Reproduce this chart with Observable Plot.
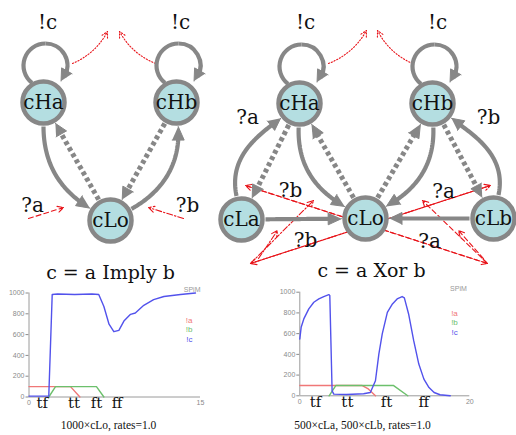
<!DOCTYPE html>
<html><head><meta charset="utf-8">
<script src="https://cdn.jsdelivr.net/npm/d3@7"></script>
<script src="https://cdn.jsdelivr.net/npm/@observablehq/plot@0.6"></script>
<style>
html,body{margin:0;padding:0;background:#fff;}
#wrap{position:relative;width:516px;height:435px;overflow:hidden;background:#fff;}
#wrap svg{position:absolute;left:0;top:0;}
</style></head><body><div id="wrap"></div>
<script>
// ---------- diagram data ----------
const nodeId    = ["A.cHa","A.cHb","A.cLo","B.cHa","B.cHb","B.cLa","B.cLo","B.cLb"];
const nodeLabel = ["cHa","cHb","cLo","cHa","cHb","cLa","cLo","cLb"];
const nodeX     = [43,176,110,299,432,241,365,493];
const nodeY     = [102,102,220,103,103,219,218,218];

const edgeFrom  = ["A.cHa","A.cLo","A.cHb","A.cLo","B.cLa","B.cHa","B.cHa","B.cLo","B.cLo","B.cHb","B.cHb","B.cLb","B.cLa","B.cLb"];
const edgeTo    = ["A.cLo","A.cHa","A.cLo","A.cHb","B.cHa","B.cLa","B.cLo","B.cHa","B.cHb","B.cLo","B.cLb","B.cHb","B.cLo","B.cLo"];
const edgeStyle = ["solid","dotted","dotted","solid","solid","dotted","solid","dotted","dotted","solid","dotted","solid","solid","solid"];
// exit / entry directions (degrees, null = straight) and tangent lengths of the curved ones
const edgeExit  = [90,null,null,-29,-102,null,92,null,null,88,null,-78,null,null];
const edgeEntry = [211,null,null,86,142,null,210,null,null,-30,null,38,null,null];
const edgeK0    = [48,0,0,22,42,0,45,0,0,45,0,42,0,0];
const edgeK1    = [22,0,0,48,25,0,25,0,0,25,0,25,0,0];

const loopNodes = ["A.cHa","A.cHb","B.cHa","B.cHb"];

const redX1 = [28,183,72,155,328,412,487,245,487,483,250,490,250,258];
const redY1 = [218,218,63,63,63,63,263,185,263,258,263,185,263,258];
const redX2 = [63,148,107,119,366,377,245,487,422,458,490,250,313,277];
const redY2 = [207,207,31,31,30,30,185,263,200,230,185,263,200,230];
const redKind = ["dash","dashdot","dot","dot","dot","dot","dash","dash","dash","dash","dashdot","dashdot","dashdot","dashdot"];
const redBend = [0,0,-20,20,-20,20,0,0,0,0,0,0,0,0];

const labelText = ["!c","!c","?a","?b","!c","!c","?a","?b","?b","?a","?b","?a"];
const labelX    = [47,180,32,187,305,437,247,488,290,443,305,429];
const labelY    = [22,22,205,205,22,22,117,117,190,191,240,241];

const titleText = ["c = a Imply b","c = a Xor b"];
const titleX    = [110,371];
const titleY    = [272,270.5];
const captionText = ["1000×cLo, rates=1.0","500×cLa, 500×cLb, rates=1.0"];
const captionX    = [108,362];
const captionY    = [424.5,424.5];

// ---------- chart data ----------
const implyT_c = [0,1.73,2.03,2.5,4,5.5,6.1,6.55,7.0,7.42,7.86,8.3,8.88,9.3,10.04,10.9,11.8,13.25,14.56];
const implyV_c = [8,8,985,990,985,990,985,870,700,628,640,730,795,808,882,936,966,985,1000];
const implyT_a = [0,3.63,4.45];
const implyV_a = [100,100,0];
const implyT_b = [1.73,2.32,5.9,6.55];
const implyV_b = [0,100,100,0];
const implyPhaseT = [1.17,3.93,5.9,7.7];

const xorT_c = [0,0.16,0.47,1.06,1.65,2.24,2.82,3.41,3.53,3.8,4.0,5.5,7.5,8.3,8.9,9.3,9.7,10.3,10.9,11.45,12.04,12.3,12.8,13.4,14.0,14.6,15.2,15.8,16.5,17.7];
const xorV_c = [548,661,742,839,903,935,958,977,968,48,16,12,20,32,145,403,597,806,887,935,958,945,790,532,306,161,80,32,10,0];
const xorT_a = [0,7.3,8.0,8.9];
const xorV_a = [100,100,70,0];
const xorT_b = [3.45,4.25,11.0,12.7];
const xorV_b = [0,100,100,0];
const xorPhaseT = [1.85,5.6,10.2,14.6];

const phaseLabels = ["tf","tt","ft","ff"];
const legendLabels = ["!a","!b","!c"];
const yTicks = [0,200,400,600,800,1000];

// ---------- styles ----------
const GRAY = "#878787", NODE_FILL = "#b4dee1", RED = "#e8141a";
const C_A = "#f07777", C_B = "#6cc06c", C_C = "#5252ec";
const dashes = {dash:"5,3", dashdot:"6,2,1.5,2", dot:"1.2,1.8"};
const NODE_OUT = 24, HEAD_H = 12, HEAD_W = 12;
const D2R = Math.PI/180;

// ---------- geometry helpers ----------
function triangle(T,B,w,id){
  const dx=T[0]-B[0], dy=T[1]-B[1], l=Math.hypot(dx,dy);
  const nx=-dy/l*w/2, ny=dx/l*w/2;
  return [{id,x:T[0],y:T[1]},{id,x:B[0]+nx,y:B[1]+ny},{id,x:B[0]-nx,y:B[1]-ny}];
}
function bezier(P0,P1,P2,P3,n){
  const pts=[];
  for(let k=0;k<=n;k++){const t=k/n,u=1-t;
    pts.push([u*u*u*P0[0]+3*u*u*t*P1[0]+3*u*t*t*P2[0]+t*t*t*P3[0],
              u*u*u*P0[1]+3*u*u*t*P1[1]+3*u*t*t*P2[1]+t*t*t*P3[1]]);}
  return pts;
}

const wrap = document.getElementById("wrap");
const idx = new Map(nodeId.map((id,i)=>[id,i]));
const marks = [];
const heads = [];
const solidPts = [], dottedPts = [];

// red input/output arrows
redX1.forEach((_,i)=>{
  marks.push(Plot.arrow([i], {
    x1:j=>redX1[j], y1:j=>redY1[j], x2:j=>redX2[j], y2:j=>redY2[j],
    bend: redBend[i], stroke: RED, strokeWidth: 1.1,
    strokeDasharray: dashes[redKind[i]], headLength: 9, headAngle: 55
  }));
});

// gray transitions
edgeFrom.forEach((f,i)=>{
  const a = idx.get(f), b = idx.get(edgeTo[i]);
  const A=[nodeX[a],nodeY[a]], Bn=[nodeX[b],nodeY[b]];
  const straight = edgeExit[i]==null;
  const base = Math.atan2(Bn[1]-A[1],Bn[0]-A[0]);
  const a0 = straight ? base : edgeExit[i]*D2R;
  const a1 = straight ? base+Math.PI : edgeEntry[i]*D2R;
  const P0=[A[0]+NODE_OUT*Math.cos(a0),A[1]+NODE_OUT*Math.sin(a0)];
  const P3=[Bn[0]+NODE_OUT*Math.cos(a1),Bn[1]+NODE_OUT*Math.sin(a1)];
  const k0 = straight ? 0 : edgeK0[i], k1 = straight ? 0 : edgeK1[i];
  const P1=[P0[0]+k0*Math.cos(a0),P0[1]+k0*Math.sin(a0)];
  const P2=[P3[0]+k1*Math.cos(a1),P3[1]+k1*Math.sin(a1)];
  const pts = bezier(P0,P1,P2,P3,60);
  const dist = p=>Math.hypot(p[0]-P3[0],p[1]-P3[1]);
  const shaft = pts.filter(p=>dist(p)>6);
  let baseP = pts[0];
  for (let k=pts.length-1;k>=0;k--){ if (dist(pts[k])>=HEAD_H){ baseP=pts[k]; break; } }
  const target = edgeStyle[i]==="dotted" ? dottedPts : solidPts;
  shaft.forEach(p=>target.push({id:"e"+i, x:p[0], y:p[1]}));
  heads.push(...triangle(P3, baseP, HEAD_W, "e"+i));
});
marks.push(Plot.line(solidPts, {x:"x", y:"y", z:"id", stroke:GRAY, strokeWidth:4.2, strokeLinecap:"butt"}));
marks.push(Plot.line(dottedPts, {x:"x", y:"y", z:"id", stroke:GRAY, strokeWidth:5, strokeDasharray:"4,3", strokeLinecap:"butt"}));

// self loops
loopNodes.forEach((id,k)=>{
  const i = idx.get(id), cx = nodeX[i]+2, cy = nodeY[i]-37, R = 22;
  const P = deg => [cx+R*Math.cos(deg*D2R), cy+R*Math.sin(deg*D2R)];
  const s=P(128), t=P(270), e=P(390);
  marks.push(Plot.arrow([0], {x1:()=>s[0],y1:()=>s[1],x2:()=>t[0],y2:()=>t[1], bend:71, headLength:0, stroke:GRAY, strokeWidth:4.2, strokeLinecap:"butt"}));
  marks.push(Plot.arrow([0], {x1:()=>t[0],y1:()=>t[1],x2:()=>e[0],y2:()=>e[1], bend:60, headLength:0, stroke:GRAY, strokeWidth:4.2, strokeLinecap:"butt"}));
  heads.push(...triangle(P(45), P(14), HEAD_W, "l"+k));
});

marks.push(Plot.line(heads, {x:"x", y:"y", z:"id", fill:GRAY, stroke:GRAY, strokeWidth:1, strokeLinejoin:"miter"}));

// nodes
marks.push(Plot.dot(nodeId, {x:(d,i)=>nodeX[i], y:(d,i)=>nodeY[i], r:21, fill:NODE_FILL, stroke:GRAY, strokeWidth:4.5}));
marks.push(Plot.text(nodeLabel, {x:(d,i)=>nodeX[i], y:(d,i)=>nodeY[i], text:d=>d, fontSize:20, fontFamily:"DejaVu Serif", fill:"#111"}));
marks.push(Plot.text(labelText, {x:(d,i)=>labelX[i], y:(d,i)=>labelY[i], text:d=>d, fontSize:20, fontFamily:"DejaVu Serif", fill:"#111"}));
marks.push(Plot.text(titleText, {x:(d,i)=>titleX[i], y:(d,i)=>titleY[i], text:d=>d, fontSize:19, fontFamily:"DejaVu Serif", fill:"#111"}));
marks.push(Plot.text(captionText, {x:(d,i)=>captionX[i], y:(d,i)=>captionY[i], text:d=>d, fontSize:11.5, fontFamily:"Liberation Serif", fill:"#111"}));

const diagram = Plot.plot({
  width:516, height:435, margin:0,
  style:{background:"transparent"},
  x:{domain:[0,516], range:[0,516], axis:null},
  y:{domain:[0,435], range:[0,435], axis:null},
  marks
});
wrap.appendChild(diagram);

// ---------- line charts ----------
function series(T,V){ return T.map((t,i)=>({t, v:V[i]})); }
function chart({left,right,top,bottom,xMax,Tc,Vc,Ta,Va,Tb,Vb,phaseT,legDx,legDy,spimDx}){
  return Plot.plot({
    width:516, height:435,
    marginLeft:left, marginRight:516-right, marginTop:top, marginBottom:435-bottom,
    style:{background:"transparent", fontFamily:"Liberation Sans", fontSize:"7px", color:"#8a8a8a"},
    x:{domain:[0,xMax], ticks:[0,xMax], tickSize:0, tickPadding:3, label:null},
    y:{domain:[0,1000], ticks:yTicks, tickSize:3, tickPadding:1.5, tickFormat:"d", label:null},
    marks:[
      Plot.ruleY([0], {stroke:"#9a9a9a", strokeWidth:1}),
      Plot.ruleX([0], {stroke:"#9a9a9a", strokeWidth:1}),
      Plot.line(series(Ta,Va), {x:"t", y:"v", stroke:C_A, strokeWidth:1.4}),
      Plot.line(series(Tb,Vb), {x:"t", y:"v", stroke:C_B, strokeWidth:1.4}),
      Plot.line(series(Tc,Vc), {x:"t", y:"v", stroke:C_C, strokeWidth:1.4}),
      Plot.text(phaseLabels, {x:(d,i)=>phaseT[i], frameAnchor:"bottom", dy:11, text:d=>d, fontSize:15, fontFamily:"DejaVu Serif", fill:"#111"}),
      Plot.text(["SPiM"], {frameAnchor:"top-right", textAnchor:"end", dx:spimDx, dy:-6, text:d=>d, fontSize:7, fill:"#999"}),
      Plot.text([legendLabels[0]], {frameAnchor:"top-right", dx:legDx, dy:legDy[0], text:d=>d, fontSize:8, fill:C_A}),
      Plot.text([legendLabels[1]], {frameAnchor:"top-right", dx:legDx, dy:legDy[1], text:d=>d, fontSize:8, fill:C_B}),
      Plot.text([legendLabels[2]], {frameAnchor:"top-right", dx:legDx, dy:legDy[2], text:d=>d, fontSize:8, fill:C_C})
    ]
  });
}
wrap.appendChild(chart({left:28.5, right:200, top:292.5, bottom:396.5, xMax:15,
  Tc:implyT_c, Vc:implyV_c, Ta:implyT_a, Va:implyV_a, Tb:implyT_b, Vb:implyV_b,
  phaseT:implyPhaseT, legDx:-8, legDy:[24,33.5,43.5], spimDx:0}));
wrap.appendChild(chart({left:299.3, right:469.3, top:291.7, bottom:395.3, xMax:20,
  Tc:xorT_c, Vc:xorV_c, Ta:xorT_a, Va:xorV_a, Tb:xorT_b, Vb:xorV_b,
  phaseT:xorPhaseT, legDx:-12, legDy:[18.5,27.5,37.5], spimDx:-3}));
</script>
</body></html>
